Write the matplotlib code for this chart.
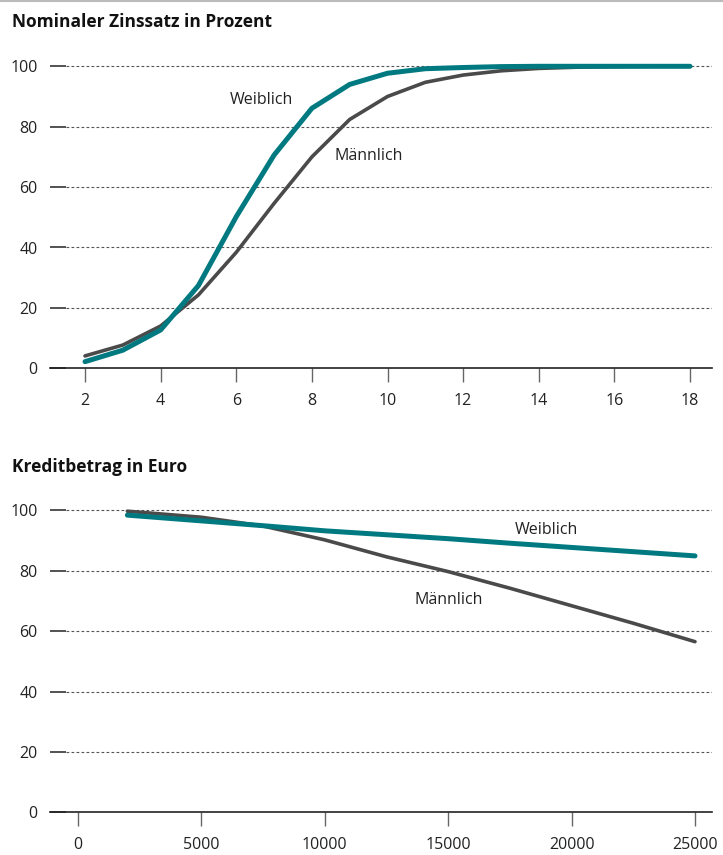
import matplotlib
matplotlib.use('Agg')
from matplotlib import pyplot as plt
from matplotlib.lines import Line2D

plt.rcParams['font.family'] = ['Open Sans', 'DejaVu Sans']

# data
zins = list(range(2, 19))
zins_w = [2.2, 6.0, 12.7, 27.4, 50.2, 70.6, 86.1, 94.0, 97.7, 99.2, 99.6,
          99.9, 100, 100, 100, 100, 100]
zins_m = [4.1, 7.7, 14.0, 24.3, 38.4, 54.6, 70.0, 82.4, 90.0, 94.7, 97.1,
          98.5, 99.3, 99.7, 99.9, 100, 100]

kredit = [2000, 5000, 7500, 10000, 12500, 15000, 17500, 20000, 22500, 25000]
kredit_w = [98.4, 96.5, 94.9, 93.2, 91.9, 90.6, 89.1, 87.7, 86.3, 84.9]
kredit_m = [99.7, 97.7, 94.8, 90.2, 84.6, 79.7, 74.2, 68.4, 62.6, 56.5]

yticks = [0, 20, 40, 60, 80, 100]
teal = '#007a80'
grey = '#4a4a4a'

W, H = 723, 855
fig = plt.figure(figsize=(W/100, H/100), dpi=100)
fig.add_artist(Line2D([0, 1], [1-1/H, 1-1/H], color='#bbbbbb', lw=1.5))

def panel(rect, title, title_y, x, w, m, xlim, ylim, xticks, lab_w, lab_m):
    ax = fig.add_axes(rect)
    ax.set_xlim(*xlim)
    ax.set_ylim(*ylim)
    for s in ('left', 'right', 'top'):
        ax.spines[s].set_visible(False)
    ax.spines['bottom'].set_color('#222222')
    ax.spines['bottom'].set_linewidth(1.2)
    gx = 16/662
    for yv in yticks[1:]:
        ax.axhline(yv, xmin=gx, xmax=1, color='#555555', lw=0.8,
                   ls=(0, (2.5, 2)), zorder=1)
    ax.set_yticks(yticks)
    ax.tick_params(axis='y', direction='in', length=11.5, width=1.3,
                   color='#444444', pad=9, labelsize=11.5, labelcolor='#222222')
    ax.set_xticks(xticks)
    ax.tick_params(axis='x', direction='out', length=10, width=1,
                   color='#666666', pad=8, labelsize=11.5, labelcolor='#222222')
    ax.plot(x, m, color=grey, lw=2.6, solid_capstyle='round', zorder=3,
            clip_on=False)
    ax.plot(x, w, color=teal, lw=3.6, solid_capstyle='round', zorder=4,
            clip_on=False)
    ax.text(lab_w[0], lab_w[1], 'Weiblich', fontsize=11.5, ha='center',
            va='center', color='#222222')
    ax.text(lab_m[0], lab_m[1], 'Männlich', fontsize=11.5, ha='center',
            va='center', color='#222222')
    fig.text(12/W, 1 - title_y/H, title, fontsize=12.5, fontweight='bold',
             ha='left', va='center', color='#111111')
    return ax

left = 50/W
width = 662/W
top_rect = [left, (H-368.3)/H, width, (368.3-55)/H]
bot_rect = [left, (H-812.3)/H, width, (812.3-500)/H]

panel(top_rect, 'Nominaler Zinssatz in Prozent', 22, zins, zins_w, zins_m,
      (2 - 35/37.8, 18 + 22/37.8), (0, 100*(368.3-55)/302),
      [2, 4, 6, 8, 10, 12, 14, 16, 18], (6.66, 88.8), (9.51, 70.3))

panel(bot_rect, 'Kreditbetrag in Euro', 467, kredit, kredit_w, kredit_m,
      (-28/123.4*5000, 25000 + 17/123.4*5000), (0, 100*(812.3-500)/302),
      [0, 5000, 10000, 15000, 20000, 25000], (18960, 93.5), (15030, 70.3))

fig.savefig('out.png', dpi=100)
